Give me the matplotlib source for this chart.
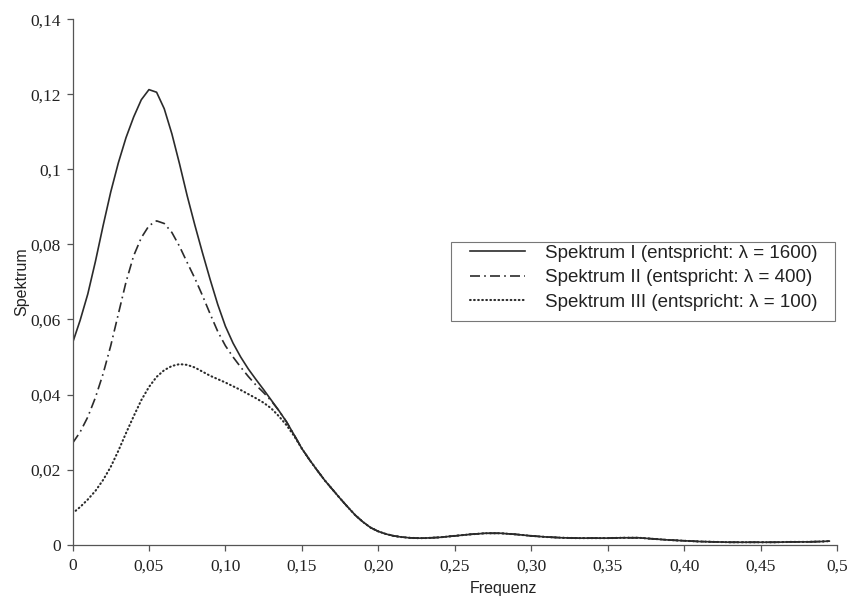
import matplotlib
matplotlib.use('Agg')
import matplotlib.pyplot as plt
from matplotlib.patches import Rectangle

# 1. Data
freq = [0.000, 0.005, 0.010, 0.015, 0.020, 0.025, 0.030, 0.035, 0.040, 0.045,
        0.050, 0.055, 0.060, 0.065, 0.070, 0.075, 0.080, 0.085, 0.090, 0.095,
        0.100, 0.105, 0.110, 0.115, 0.120, 0.125, 0.130, 0.135, 0.140, 0.145,
        0.150, 0.155, 0.160, 0.165, 0.170, 0.175, 0.180, 0.185, 0.190, 0.195,
        0.200, 0.205, 0.210, 0.215, 0.220, 0.225, 0.230,
        0.24, 0.25, 0.26, 0.27, 0.28, 0.29, 0.30, 0.31, 0.32, 0.33, 0.34,
        0.35, 0.36, 0.37, 0.38, 0.39, 0.40, 0.41, 0.42, 0.43, 0.44, 0.45,
        0.46, 0.47, 0.48, 0.49, 0.495]

spektrum_1 = [0.0537, 0.0598, 0.0668, 0.0755, 0.0850, 0.0940, 0.1018, 0.1085, 0.1140, 0.1186,
              0.1213, 0.1206, 0.1162, 0.1095, 0.1015, 0.0930, 0.0852, 0.0778, 0.0707, 0.0640,
              0.0582, 0.0537, 0.0500, 0.0468, 0.0440, 0.0413, 0.0385, 0.0357, 0.0327, 0.0292,
              0.0256, 0.0226, 0.0198, 0.0171, 0.0147, 0.0123, 0.0100, 0.0078, 0.0060, 0.0045,
              0.0035, 0.0028, 0.0023, 0.0020, 0.0018, 0.0017, 0.0017,
              0.0019, 0.0023, 0.0027, 0.0030, 0.0030, 0.0027, 0.0023, 0.0020, 0.0018, 0.0017, 0.0017,
              0.0017, 0.0018, 0.0018, 0.0015, 0.0012, 0.0010, 0.0008, 0.0007, 0.0006, 0.0006, 0.0006,
              0.0006, 0.0007, 0.0007, 0.0008, 0.0009]

spektrum_2 = [0.0270, 0.0300, 0.0340, 0.0392, 0.0455, 0.0530, 0.0615, 0.0700, 0.0770, 0.0818,
              0.0850, 0.0863, 0.0856, 0.0832, 0.0795, 0.0752, 0.0710, 0.0664, 0.0615, 0.0568,
              0.0530, 0.0500, 0.0473, 0.0448, 0.0425, 0.0405, 0.0383, 0.0357, 0.0327, 0.0292,
              0.0256, 0.0226, 0.0198, 0.0171, 0.0147, 0.0123, 0.0100, 0.0078, 0.0060, 0.0045,
              0.0035, 0.0028, 0.0023, 0.0020, 0.0018, 0.0017, 0.0017,
              0.0019, 0.0023, 0.0027, 0.0030, 0.0030, 0.0027, 0.0023, 0.0020, 0.0018, 0.0017, 0.0017,
              0.0017, 0.0018, 0.0018, 0.0015, 0.0012, 0.0010, 0.0008, 0.0007, 0.0006, 0.0006, 0.0006,
              0.0006, 0.0007, 0.0007, 0.0008, 0.0009]

spektrum_3 = [0.0083, 0.0100, 0.0120, 0.0143, 0.0172, 0.0207, 0.0250, 0.0297, 0.0342, 0.0385,
              0.0420, 0.0447, 0.0465, 0.0476, 0.0481, 0.0479, 0.0472, 0.0461, 0.0450, 0.0441,
              0.0432, 0.0422, 0.0412, 0.0401, 0.0390, 0.0378, 0.0363, 0.0342, 0.0318, 0.0289,
              0.0256, 0.0226, 0.0198, 0.0171, 0.0147, 0.0123, 0.0100, 0.0078, 0.0060, 0.0045,
              0.0035, 0.0028, 0.0023, 0.0020, 0.0018, 0.0017, 0.0017,
              0.0019, 0.0023, 0.0027, 0.0030, 0.0030, 0.0027, 0.0023, 0.0020, 0.0018, 0.0017, 0.0017,
              0.0017, 0.0018, 0.0018, 0.0015, 0.0012, 0.0010, 0.0008, 0.0007, 0.0006, 0.0006, 0.0006,
              0.0006, 0.0007, 0.0007, 0.0008, 0.0009]

labels = ['Spektrum I (entspricht: λ = 1600)',
          'Spektrum II (entspricht: λ = 400)',
          'Spektrum III (entspricht: λ = 100)']

x_ticks = [0, 0.05, 0.10, 0.15, 0.20, 0.25, 0.30, 0.35, 0.40, 0.45, 0.5]
x_ticklabels = ['0', '0,05', '0,10', '0,15', '0,20', '0,25', '0,30', '0,35', '0,40', '0,45', '0,5']
y_ticks = [0, 0.02, 0.04, 0.06, 0.08, 0.10, 0.12, 0.14]
y_ticklabels = ['0', '0,02', '0,04', '0,06', '0,08', '0,1', '0,12', '0,14']

# 2. Figure
fig = plt.figure(figsize=(8.51, 5.96), dpi=100)
ax = fig.add_axes([0.0852, 0.0864, 0.8983, 0.8809])

line_col = '#2b2b2b'
ax.plot(freq, spektrum_1, color=line_col, lw=1.2, label=labels[0])
ax.plot(freq, spektrum_2, color=line_col, lw=1.2, dashes=(6, 2.5, 1, 2.5), label=labels[1])
ax.plot(freq, spektrum_3, color=line_col, lw=1.5, dashes=(0.35, 1.6),
        dash_capstyle='round', label=labels[2])

ax.set_xlim(0, 0.5)
ax.set_ylim(0, 0.14)

for side in ['top', 'right']:
    ax.spines[side].set_visible(False)
for side in ['left', 'bottom']:
    ax.spines[side].set_color('#555555')
    ax.spines[side].set_linewidth(0.9)

ax.set_xticks(x_ticks)
ax.set_xticklabels(x_ticklabels, family='Liberation Serif', fontsize=12.5)
ax.set_yticks(y_ticks)
ax.set_yticklabels(y_ticklabels, family='Liberation Serif', fontsize=12.5)
ax.tick_params(axis='both', direction='out', length=4.5, width=0.9, color='#555555', labelcolor='#222222')
ax.tick_params(axis='x', pad=5.5)
ax.tick_params(axis='y', pad=4)

ax.set_xlabel('Frequenz', family='Liberation Sans', fontsize=11.5, color='#222222')
ax.set_ylabel('Spektrum', family='Liberation Sans', fontsize=11.5, color='#222222')
ax.xaxis.label.set_verticalalignment('center')
ax.yaxis.label.set_verticalalignment('center')
ax.xaxis.set_label_coords(0.564, -0.083)
ax.yaxis.set_label_coords(-0.067, 0.5)

# 3. Legend (frame drawn separately to get the wide side padding)
leg = ax.legend(loc='upper left', bbox_to_anchor=(0.515, 0.578), borderaxespad=0,
                frameon=False, borderpad=0.2, handlelength=2.95, handletextpad=1.05,
                labelspacing=0.39, prop={'family': 'Liberation Sans', 'size': 13.5})
for t in leg.get_texts():
    t.set_color('#222222')
ax.add_patch(Rectangle((0.495, 0.4257), 0.5023, 0.150, transform=ax.transAxes,
                       fill=False, edgecolor='#777777', lw=0.8, clip_on=False))

plt.savefig('out.png', dpi=100)
